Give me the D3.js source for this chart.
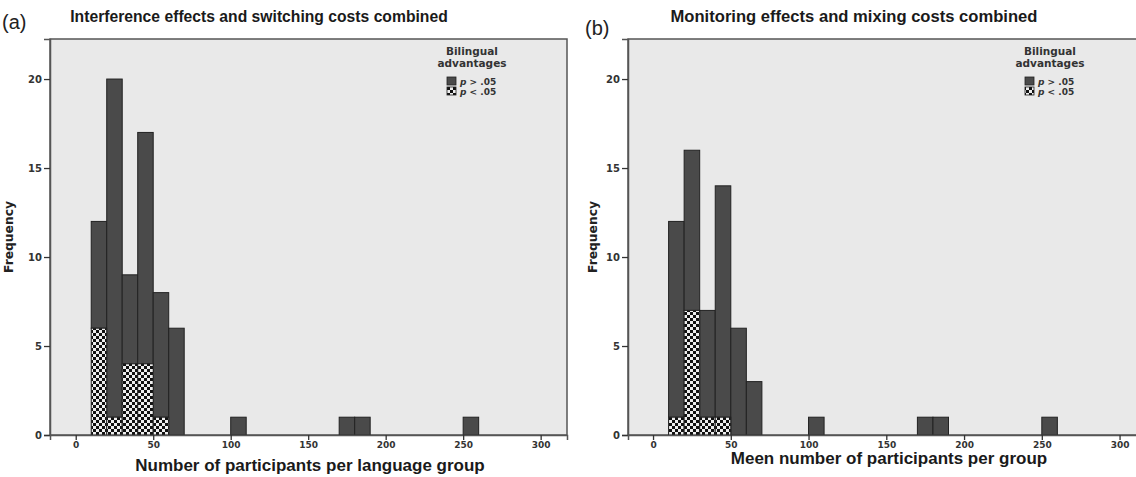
<!DOCTYPE html>
<html>
<head>
<meta charset="utf-8">
<script src="https://cdn.jsdelivr.net/npm/d3@7"></script>
<style>
  body { margin: 0; background: #fff; }
  svg { display: block; }
  .tick text { font-family: "DejaVu Sans", sans-serif; font-weight: bold; font-size: 9px; fill: #333; }
  .y-axis .tick text { font-size: 10px; }
  .title { font-family: "Liberation Sans", Arial, sans-serif; font-weight: bold; }
</style>
</head>
<body>
<div class="container-chart"></div>
<script>
// ---- data ----
const binStarts = [10, 20, 30, 40, 50, 60, 100, 170, 180, 250];
const binWidth = 10;
const totalA = [12, 20, 9, 17, 8, 6, 1, 1, 1, 1];
const sigA   = [6, 1, 4, 4, 1, 0, 0, 0, 0, 0];
const totalB = [12, 16, 7, 14, 6, 3, 1, 1, 1, 1];
const sigB   = [1, 7, 1, 1, 0, 0, 0, 0, 0, 0];
const yTicks = [0, 5, 10, 15, 20];
const xTicks = [0, 50, 100, 150, 200, 250, 300];
const legendLabels = ["> .05", "< .05"];

const W = 1136, H = 477;

const svg = d3.select(".container-chart")
    .append("svg")
    .attr("width", W)
    .attr("height", H);

// checker pattern for the p < .05 part
const defs = svg.append("defs");
const pat = defs.append("pattern")
    .attr("id", "checker")
    .attr("patternUnits", "userSpaceOnUse")
    .attr("width", 6).attr("height", 6);
pat.append("rect").attr("width", 6).attr("height", 6).attr("fill", "#eeeeee");
pat.append("rect").attr("width", 3).attr("height", 3).attr("fill", "#111");
pat.append("rect").attr("x", 3).attr("y", 3).attr("width", 3).attr("height", 3).attr("fill", "#111");

const panels = [
    { tag: "(a)", tagX: 2, tagY: 29, title: "Interference effects and switching costs combined", titleX: 259, titleSize: 15.7,
      xTitle: "Number of participants per language group", xTitleX: 310, xTitleY: 471,
      total: totalA, sig: sigA, left: 50, right: 567, xMin: -16.6, xMax: 317, freqX: 13, legX: 472 },
    { tag: "(b)", tagX: 585, tagY: 35, title: "Monitoring effects and mixing costs combined", titleX: 854, titleSize: 16.6,
      xTitle: "Meen number of participants per group", xTitleX: 889, xTitleY: 464,
      total: totalB, sig: sigB, left: 628, right: 1146, xMin: -16.1, xMax: 317, freqX: 597, legX: 1050 }
];

const plotTop = 39, plotBottom = 435;

panels.forEach(function (p) {
    const x = d3.scaleLinear().domain([p.xMin, p.xMax]).range([p.left, p.right]);
    const y = d3.scaleLinear().domain([0, 22.25]).range([plotBottom, plotTop]);
    const g = svg.append("g");

    g.append("rect")
        .attr("x", p.left).attr("y", plotTop)
        .attr("width", p.right - p.left).attr("height", plotBottom - plotTop)
        .attr("fill", "#e9e9e9")
        .attr("stroke", "#555").attr("stroke-width", 1.5);

    const bins = binStarts.map(function (b, i) { return { x0: b, total: p.total[i], sig: p.sig[i] }; });

    // dark part (p > .05)
    g.selectAll(".bar-ns").data(bins.filter(function (d) { return d.total > d.sig; }))
        .enter().append("rect")
        .attr("class", "bar-ns")
        .attr("x", function (d) { return x(d.x0); })
        .attr("width", function (d) { return x(d.x0 + binWidth) - x(d.x0); })
        .attr("y", function (d) { return y(d.total); })
        .attr("height", function (d) { return y(d.sig) - y(d.total); })
        .attr("fill", "#4a4a4a")
        .attr("stroke", "#222").attr("stroke-width", 1);

    // checker part (p < .05)
    g.selectAll(".bar-sig").data(bins.filter(function (d) { return d.sig > 0; }))
        .enter().append("rect")
        .attr("class", "bar-sig")
        .attr("x", function (d) { return x(d.x0); })
        .attr("width", function (d) { return x(d.x0 + binWidth) - x(d.x0); })
        .attr("y", function (d) { return y(d.sig); })
        .attr("height", function (d) { return y(0) - y(d.sig); })
        .attr("fill", "url(#checker)")
        .attr("stroke", "#222").attr("stroke-width", 1);

    // axes
    const yAxis = g.append("g")
        .attr("class", "y-axis")
        .attr("transform", "translate(" + p.left + ",0)")
        .call(d3.axisLeft(y).tickValues(yTicks).tickSize(6).tickPadding(2));
    yAxis.select(".domain").attr("stroke", "#555").attr("stroke-width", 1.5);
    yAxis.selectAll(".tick line").attr("stroke", "#333").attr("stroke-width", 1.3);

    const xAxis = g.append("g")
        .attr("transform", "translate(0," + plotBottom + ")")
        .call(d3.axisBottom(x).tickValues(xTicks).tickSize(5).tickPadding(2));
    xAxis.select(".domain").attr("stroke", "#555").attr("stroke-width", 1.5);
    xAxis.selectAll(".tick line").attr("stroke", "#333").attr("stroke-width", 1.3);

    // titles
    svg.append("text").attr("x", p.tagX).attr("y", p.tagY)
        .attr("font-family", "Liberation Sans, Arial, sans-serif").attr("font-size", 20)
        .attr("fill", "#222").text(p.tag);
    svg.append("text").attr("class", "title")
        .attr("x", p.titleX).attr("y", 22).attr("text-anchor", "middle")
        .attr("font-size", p.titleSize).attr("fill", "#1a1a1a").text(p.title);
    svg.append("text").attr("class", "title")
        .attr("x", p.xTitleX).attr("y", p.xTitleY).attr("text-anchor", "middle")
        .attr("font-size", 17).attr("fill", "#1a1a1a").text(p.xTitle);
    svg.append("text")
        .attr("transform", "translate(" + p.freqX + "," + 237 + ") rotate(-90)")
        .attr("text-anchor", "middle")
        .attr("font-family", "DejaVu Sans, sans-serif").attr("font-weight", "bold")
        .attr("font-size", 12.3).attr("fill", "#222").text("Frequency");

    // legend
    const lg = svg.append("g").attr("font-family", "DejaVu Sans, sans-serif")
        .attr("font-weight", "bold").attr("font-size", 9).attr("fill", "#333");
    lg.append("text").attr("x", p.legX).attr("y", 55).attr("text-anchor", "middle")
        .attr("font-size", 10.5).text("Bilingual");
    lg.append("text").attr("x", p.legX).attr("y", 67).attr("text-anchor", "middle")
        .attr("font-size", 10.5).text("advantages");
    const sw = p.legX - 25;
    lg.append("rect").attr("x", sw).attr("y", 77).attr("width", 9).attr("height", 8)
        .attr("fill", "#4a4a4a").attr("stroke", "#222").attr("stroke-width", 0.8);
    lg.append("rect").attr("x", sw).attr("y", 87).attr("width", 9).attr("height", 8)
        .attr("fill", "url(#checker)").attr("stroke", "#222").attr("stroke-width", 0.8);
    legendLabels.forEach(function (lab, i) {
        const t = lg.append("text").attr("x", sw + 13).attr("y", 85 + i * 10);
        t.append("tspan").attr("font-style", "italic").text("p");
        t.append("tspan").text(" " + lab);
    });
});
</script>
</body>
</html>
